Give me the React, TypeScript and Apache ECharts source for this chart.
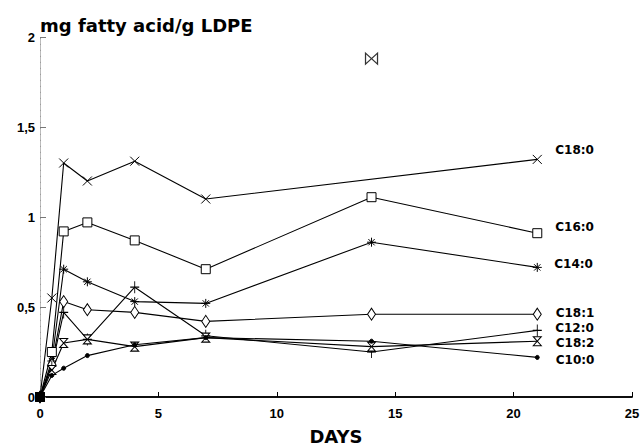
import React, { useEffect, useRef } from "react";
import * as echarts from "echarts";

// Sampling days
const days = [0, 0.5, 1, 2, 4, 7, 14, 21];

// mg fatty acid / g LDPE per fatty acid (null = not measured)
const c18_0 = [0, 0.55, 1.3, 1.2, 1.31, 1.1, null, 1.32];
const c16_0 = [0, 0.25, 0.92, 0.97, 0.87, 0.71, 1.11, 0.91];
const c14_0 = [0, 0.2, 0.71, 0.64, 0.53, 0.52, 0.86, 0.72];
const c18_1 = [0, 0.18, 0.53, 0.485, 0.47, 0.42, 0.46, 0.46];
const c12_0 = [0, 0.17, 0.47, 0.32, 0.61, 0.34, 0.25, 0.37];
const c18_2 = [0, 0.15, 0.3, 0.32, 0.28, 0.33, 0.28, 0.31];
const c10_0 = [0, 0.12, 0.16, 0.23, 0.29, 0.33, 0.31, 0.22];

// Isolated point at day 14
const outlierDays = [14];
const outlierValues = [1.88];

const xTicks = [0, 5, 10, 15, 20, 25];
const yTicks = [0, 0.5, 1, 1.5, 2];

const SYM_X = "path://M0,0L10,10M10,0L0,10";
const SYM_AST = "path://M5,0L5,10M0,5L10,5M1.5,1.5L8.5,8.5M8.5,1.5L1.5,8.5";
const SYM_PLUS = "path://M5,0L5,12M0,6L10,6";
const SYM_HOUR = "path://M0,0L10,0L0,10L10,10Z";
const SYM_BOW = "path://M0,0L10,10L10,0L0,10Z";

const LABEL_FONT = "DejaVu Sans";
const TICK_FONT = "Liberation Sans";

type Def = {
  name: string;
  values: (number | null)[];
  symbol: string;
  size: number | number[];
  fill: string;
  dist: number;
  dy: number;
};

const defs: Def[] = [
  { name: "C18:0", values: c18_0, symbol: SYM_X, size: 9, fill: "#fff", dist: 13, dy: -9 },
  { name: "C16:0", values: c16_0, symbol: "rect", size: 9, fill: "#fff", dist: 13, dy: -6 },
  { name: "C14:0", values: c14_0, symbol: SYM_AST, size: 9, fill: "#fff", dist: 12, dy: -3 },
  { name: "C18:1", values: c18_1, symbol: "diamond", size: [8, 12], fill: "#fff", dist: 14, dy: -1 },
  { name: "C12:0", values: c12_0, symbol: SYM_PLUS, size: [9, 12], fill: "#fff", dist: 13, dy: -2 },
  { name: "C18:2", values: c18_2, symbol: SYM_HOUR, size: [8, 9], fill: "#fff", dist: 14, dy: 2 },
  { name: "C10:0", values: c10_0, symbol: "circle", size: 4, fill: "#000", dist: 16, dy: 3 },
];

function buildSeries() {
  const series: any[] = defs.map((d) => {
    const pts = days
      .map((x, i) => [x, d.values[i]] as [number, number | null])
      .filter((p) => p[1] !== null);
    const data = pts.map((p, i) => {
      const item: any = { value: p };
      if (i === pts.length - 1) {
        item.label = {
          show: true,
          formatter: d.name,
          position: "right",
          distance: d.dist,
          offset: [0, d.dy],
          color: "#000",
          fontFamily: LABEL_FONT,
          fontWeight: "bold",
          fontSize: 12,
        };
      }
      if (p[0] === 0) {
        item.itemStyle = { color: "#000" };
      }
      return item;
    });
    return {
      name: d.name,
      type: "line",
      data,
      symbol: d.symbol,
      symbolSize: d.size,
      showAllSymbol: true,
      color: "#000",
      itemStyle: { color: d.fill, borderColor: "#000", borderWidth: 1 },
      lineStyle: { color: "#000", width: 1.1 },
      label: { show: false },
      emphasis: { disabled: true },
      silent: true,
      z: 3,
    };
  });
  series.push({
    name: "outlier",
    type: "scatter",
    data: outlierDays.map((x, i) => [x, outlierValues[i]]),
    symbol: SYM_BOW,
    symbolSize: [12, 11],
    itemStyle: { color: "#fff", borderColor: "#000", borderWidth: 1.2 },
    emphasis: { disabled: true },
    silent: true,
  });
  return series;
}

const fmt = (v: number) => String(v).replace(".", ",");

export default function App() {
  const ref = useRef<HTMLDivElement>(null);
  useEffect(() => {
    const chart = echarts.init(ref.current!, null, { renderer: "svg" });
    chart.setOption({
      animation: false,
      backgroundColor: "#fff",
      grid: { left: 40, right: 11, top: 37, bottom: 51, outerBoundsMode: "none", containLabel: false },
      graphic: [
        {
          type: "text",
          left: 40,
          top: 16,
          style: {
            text: "mg fatty acid/g LDPE",
            font: `bold 18px "${LABEL_FONT}"`,
            fill: "#000",
          },
        },
      ],
      xAxis: [
        {
          type: "value",
          min: xTicks[0],
          max: xTicks[xTicks.length - 1],
          interval: 5,
          name: "DAYS",
          nameLocation: "middle",
          nameGap: 30,
          nameTextStyle: { fontFamily: LABEL_FONT, fontWeight: "bold", fontSize: 18, color: "#000" },
          axisLine: { show: true, lineStyle: { color: "#000", width: 1.5 } },
          axisTick: { show: true, inside: true, length: 5, lineStyle: { color: "#000" } },
          axisLabel: {
            margin: 10,
            fontFamily: TICK_FONT,
            fontWeight: "bold",
            fontSize: 13,
            color: "#000",
            formatter: (v: number) => fmt(v),
          },
          splitLine: { show: false },
        },
        {
          type: "value",
          position: "top",
          min: xTicks[0],
          max: xTicks[xTicks.length - 1],
          axisLine: { show: true, lineStyle: { color: "#000", width: 1.5 } },
          axisTick: { show: false },
          axisLabel: { show: false },
          splitLine: { show: false },
        },
      ],
      yAxis: [
        {
          type: "value",
          min: yTicks[0],
          max: yTicks[yTicks.length - 1],
          interval: 0.5,
          axisLine: { show: true, lineStyle: { color: "#888", width: 1, type: "dotted" } },
          axisTick: { show: true, inside: true, length: 6, lineStyle: { color: "#777" } },
          axisLabel: {
            margin: 5,
            fontFamily: TICK_FONT,
            fontWeight: "bold",
            fontSize: 13,
            color: "#000",
            formatter: (v: number) => fmt(v),
          },
          splitLine: { show: false },
        },
        {
          type: "value",
          position: "right",
          min: yTicks[0],
          max: yTicks[yTicks.length - 1],
          axisLine: { show: true, lineStyle: { color: "#bbb", width: 1, type: "dashed" } },
          axisTick: { show: false },
          axisLabel: { show: false },
          splitLine: { show: false },
        },
      ],
      series: buildSeries(),
    });
    return () => chart.dispose();
  }, []);
  return (
    <div
      ref={ref}
      style={{ position: "fixed", left: 0, top: 0, width: 643, height: 448 }}
    />
  );
}
